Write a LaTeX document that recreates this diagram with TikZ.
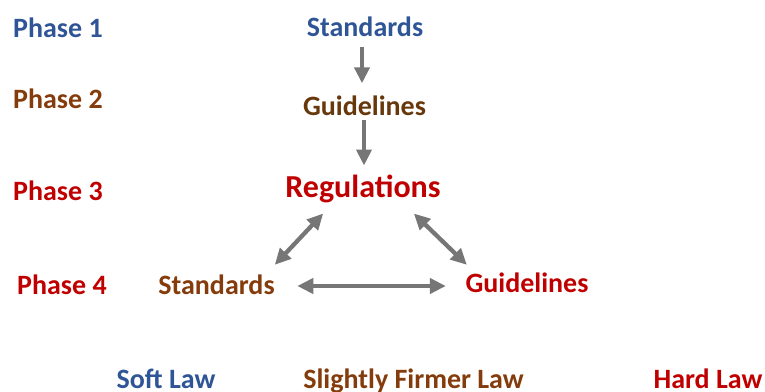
\documentclass[tikz,border=0pt]{standalone}
\usepackage{fontspec}
\setmainfont{Carlito}
\usetikzlibrary{arrows.meta,calc}
\definecolor{cblue}{RGB}{47,85,151}
\definecolor{cbrown}{RGB}{132,60,12}
\definecolor{cdbrown}{RGB}{102,56,12}
\definecolor{cred}{RGB}{192,0,0}
\definecolor{cgray}{RGB}{118,118,118}
\tikzset{
  lbl/.style={inner sep=0pt, font=\fontsize{28}{30}\selectfont\bfseries, text height=18pt, text depth=0pt},
  big/.style={inner sep=0pt, font=\fontsize{32}{34}\selectfont\bfseries, text height=20.6pt, text depth=0pt},
  arr/.style={draw=cgray, line width=4.3pt, -{Triangle[width=15pt,length=16pt]}},
  dbl/.style={draw=cgray, line width=4.3pt, {Triangle[width=15pt,length=16pt]}-{Triangle[width=15pt,length=16pt]}}
}
\begin{document}
\begin{tikzpicture}[x=1pt,y=-1pt]
\useasboundingbox (0,0) rectangle (765,391);
% phase labels
\node[lbl, text=cblue, anchor=west] (p1) at (13,28) {Phase 1};
\node[lbl, text=cbrown, anchor=west] (p2) at (13,99.5) {Phase 2};
\node[lbl, text=cred, anchor=west] (p3) at (13,191) {Phase 3};
\node[lbl, text=cred, anchor=west] (p4) at (17,285) {Phase 4};
% main nodes
\node[lbl, text=cblue] (s1) at (365,27) {Standards};
\node[lbl, text=cdbrown] (g1) at (364.5,106.5) {Guidelines};
\node[big, text=cred] (reg) at (363,187) {Regulations};
\node[lbl, text=cbrown] (s2) at (216.5,285) {Standards};
\node[lbl, text=cred] (g2) at (527,283.5) {Guidelines};
% bottom labels
\node[lbl, text=cblue] (soft) at (166,379) {Soft Law};
\node[lbl, text=cbrown] (firm) at (413.5,379) {Slightly Firmer Law};
\node[lbl, text=cred] (hard) at (708,379) {Hard Law};
% arrows
\draw[arr] ($(s1.south)+(-3,11)$) -- ($(g1.north)+(-2.5,-14)$);
\draw[arr] ($(g1.south)+(-0.5,4.5)$) -- ($(reg.north)+(1,-11)$);
\draw[dbl] ($(s2.north east)+(0,-11)$) -- ($(reg.south west)+(38,16)$);
\draw[dbl] ($(reg.south east)+(-27,16)$) -- ($(g2.north west)+(1.5,-9.5)$);
\draw[dbl] ($(s2.east)+(22.5,1)$) -- ($(g2.west)+(-19.5,2.5)$);
\end{tikzpicture}
\end{document}
